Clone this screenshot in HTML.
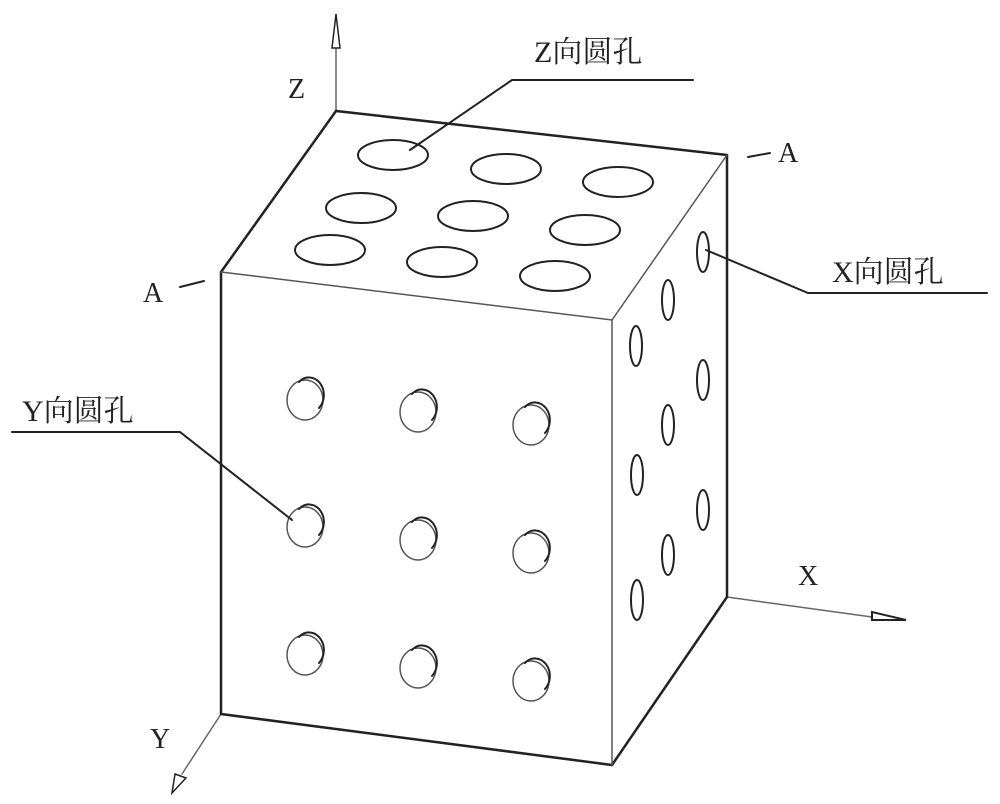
<!DOCTYPE html>
<html><head><meta charset="utf-8"><style>
html,body{margin:0;padding:0;background:#fff;}
svg{display:block;}
text{font-family:"Liberation Serif","Noto Serif CJK SC",serif;fill:#222;}
</style></head><body>
<svg width="1000" height="804" viewBox="0 0 1000 804" xmlns="http://www.w3.org/2000/svg">
<defs>
<g id="h" fill="none" stroke="#222"><ellipse cx="0" cy="0" rx="18" ry="20" stroke="#555" stroke-width="1.5"/><path d="M-6,-18 A11,13 0 0 1 14,8" stroke-width="2"/></g>
</defs>
<g fill="none" stroke="#222" stroke-linecap="round">
<line x1="336" y1="111" x2="336" y2="48" stroke="#666" stroke-width="1.5"/>
<polygon points="332,48 340,48 336,14" stroke-width="1.5"/>
<line x1="727" y1="597" x2="872" y2="617" stroke="#666" stroke-width="1.5"/>
<polygon points="872,612 872,620 906,620" stroke-width="2"/>
<line x1="221" y1="714" x2="182" y2="774" stroke="#666" stroke-width="1.5"/>
<polygon points="175,774 186,778 172,793" stroke-width="1.5"/>
<polyline points="221,272 336,111 727,155 727,597 612,765 221,714 221,272" stroke-width="2.5"/>
<polyline points="221,272 612,320 727,155" stroke="#555" stroke-width="1.5"/>
<line x1="612" y1="320" x2="612" y2="765" stroke="#555" stroke-width="1.5"/>
<g stroke-width="2">
<ellipse cx="393" cy="155" rx="35" ry="15"/><ellipse cx="506" cy="169" rx="35" ry="15"/><ellipse cx="618" cy="182" rx="35" ry="15"/>
<ellipse cx="361" cy="208" rx="35" ry="15"/><ellipse cx="473" cy="216" rx="35" ry="15"/><ellipse cx="585" cy="230" rx="35" ry="15"/>
<ellipse cx="330" cy="250" rx="35" ry="15"/><ellipse cx="442" cy="262" rx="35" ry="15"/><ellipse cx="555" cy="276" rx="35" ry="15"/>
</g>
<g stroke-width="2">
<ellipse cx="703" cy="252" rx="6" ry="20"/><ellipse cx="668" cy="300" rx="6" ry="20"/><ellipse cx="636" cy="346" rx="6" ry="20"/>
<ellipse cx="703" cy="380" rx="6" ry="20"/><ellipse cx="668" cy="425" rx="6" ry="20"/><ellipse cx="637" cy="475" rx="6" ry="20"/>
<ellipse cx="703" cy="510" rx="6" ry="20"/><ellipse cx="668" cy="555" rx="6" ry="20"/><ellipse cx="637" cy="600" rx="6" ry="20"/>
</g>
<use href="#h" x="305" y="400"/><use href="#h" x="418" y="412"/><use href="#h" x="531" y="425"/>
<use href="#h" x="305" y="527"/><use href="#h" x="418" y="540"/><use href="#h" x="531" y="553"/>
<use href="#h" x="305" y="655"/><use href="#h" x="418" y="668"/><use href="#h" x="531" y="681"/>
<polyline points="410,150 512,80 693,80" stroke-width="2"/>
<polyline points="706,250 808,293 987,293" stroke-width="2"/>
<polyline points="12,432 180,432 292,520" stroke-width="2"/>
<line x1="180" y1="287" x2="204" y2="281" stroke-width="2"/>
<line x1="748" y1="157" x2="770" y2="153" stroke-width="2"/>
</g>
<text x="288" y="98" font-size="28">Z</text>
<text x="798" y="585" font-size="28">X</text>
<text x="150" y="748" font-size="28">Y</text>
<text x="143" y="302" font-size="28">A</text>
<text x="778" y="162" font-size="28">A</text>
<text x="534" y="62" font-size="30">Z向圆孔</text>
<text x="832" y="282" font-size="30">X向圆孔</text>
<text x="22" y="421" font-size="30">Y向圆孔</text>
</svg>
</body></html>
